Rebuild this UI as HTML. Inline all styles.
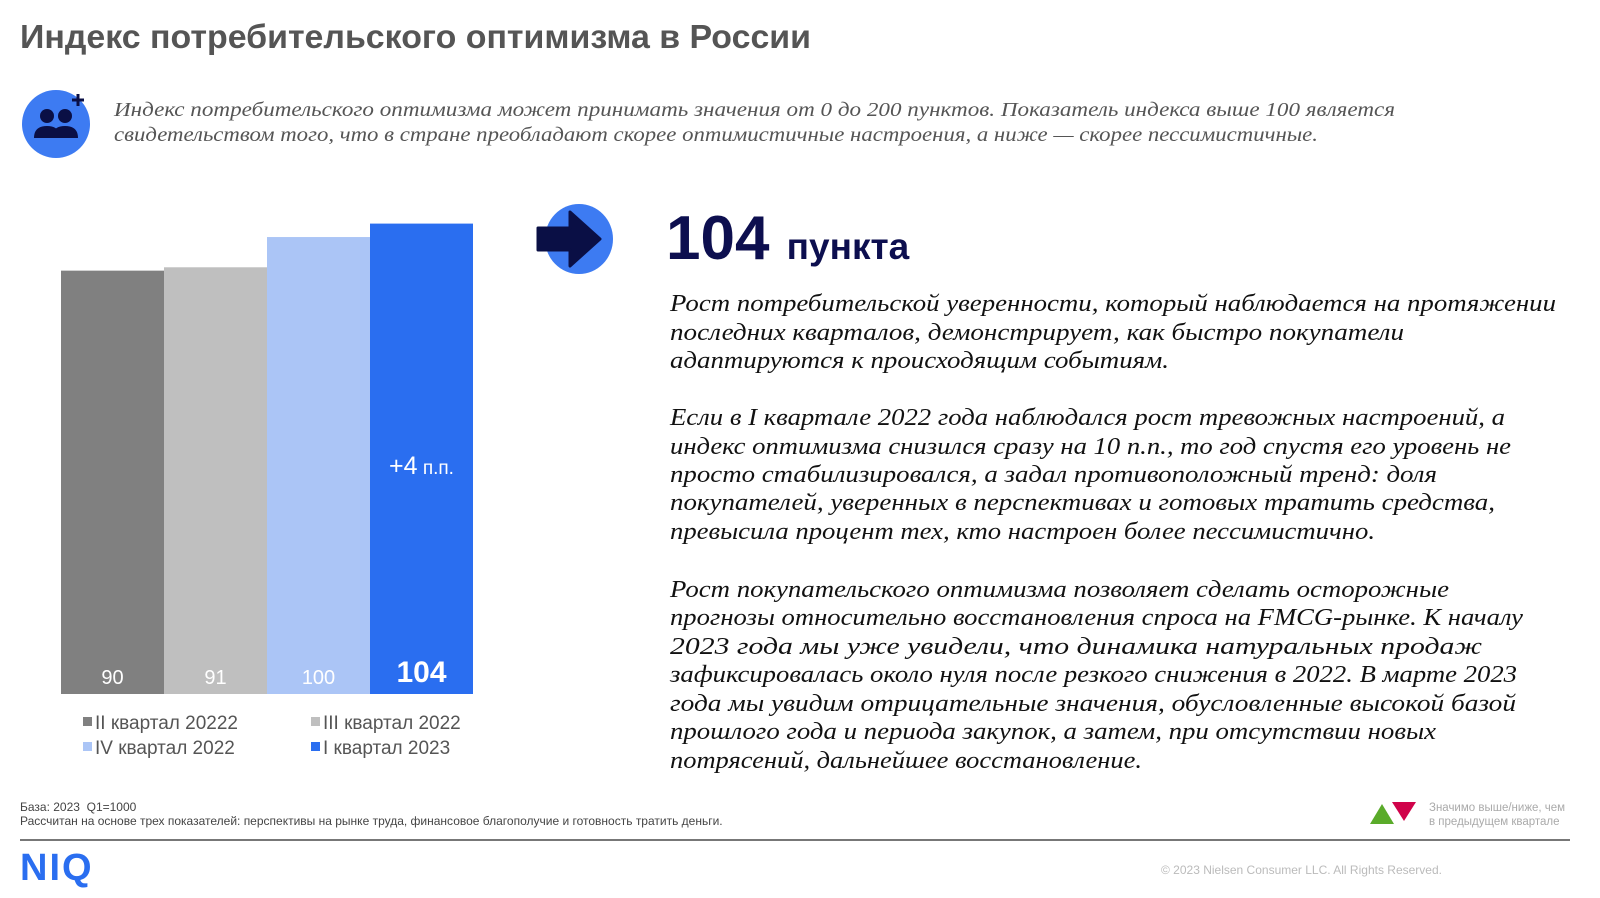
<!DOCTYPE html>
<html><head><meta charset="utf-8"><style>
body{margin:0;width:1600px;height:898px;background:#fff;position:relative;overflow:hidden;font-family:"Liberation Sans",sans-serif}
.abs{position:absolute;white-space:nowrap}
.fit{transform-origin:0 50%;display:inline-block}
.ser{font-family:"Liberation Serif",serif;font-style:italic}
.ln{position:absolute;left:670px;font-size:24px;line-height:28px;color:#111;height:28px}
</style></head><body>
<div class="abs" style="left:20px;top:18px;font-size:33px;font-weight:bold;color:#555"><span class="fit" data-w="791">Индекс потребительского оптимизма в России</span></div>

<svg class="abs" style="left:20px;top:88px" width="76" height="76" viewBox="0 0 76 76">
<circle cx="36" cy="36" r="34" fill="#3d7bf2"/>
<circle cx="27" cy="28" r="7" fill="#0a0f45"/><circle cx="45" cy="28" r="7" fill="#0a0f45"/>
<path d="M14 50 q0-12 13-12 q13 0 13 12z M32 50 q0-12 13-12 q13 0 13 12z" fill="#0a0f45"/>
<path d="M58 6v12M52 12h12" stroke="#0a0f45" stroke-width="3"/></svg>
<div class="abs ser" style="left:114px;top:98px;font-size:20px;line-height:24px;color:#555"><span class="fit" data-w="1281">Индекс потребительского оптимизма может принимать значения от 0 до 200 пунктов. Показатель индекса выше 100 является</span></div>
<div class="abs ser" style="left:114px;top:123px;font-size:20px;line-height:24px;color:#555"><span class="fit" data-w="1204">свидетельством того, что в стране преобладают скорее оптимистичные настроения, а ниже — скорее пессимистичные.</span></div>

<svg id="chart" class="abs" style="left:0;top:0" width="520" height="780"></svg>

<svg class="abs" style="left:536px;top:202px" width="84" height="76" viewBox="0 0 84 76">
<ellipse cx="43" cy="37" rx="34" ry="35" fill="#3d7bf2"/>
<path d="M2 26 H34 V10 L64 37 L34 64 V48 H2z" fill="#0a0f45" stroke="#0a0f45" stroke-linejoin="round" stroke-width="3"/></svg>
<div class="abs" style="left:666px;top:204px;font-size:62px;font-weight:bold;color:#0d0f4f;line-height:70px">104 <span style="font-size:37px">пункта</span></div>

<div id="paras"></div>

<div class="abs" style="left:20px;top:800px;font-size:12px;color:#444">База: 2023&nbsp; Q1=1000</div>
<div class="abs" style="left:20px;top:814px;font-size:12px;color:#444">Рассчитан на основе трех показателей: перспективы на рынке труда, финансовое благополучие и готовность тратить деньги.</div>
<div class="abs" style="left:20px;top:839px;width:1550px;height:2px;background:#777"></div>
<svg class="abs" style="left:1370px;top:801px" width="48" height="24"><polygon points="0,23 24,23 12,3" fill="#5aab2a"/><polygon points="22,1 46,1 34,20" fill="#d0034a"/></svg>
<div class="abs" style="left:1429px;top:801px;font-size:11.5px;line-height:14px;color:#aaa">Значимо выше/ниже, чем<br>в предыдущем квартале</div>
<div class="abs" style="left:20px;top:847px;font-size:38px;font-weight:900;color:#2a6ef0;letter-spacing:2px">NIQ</div>
<div class="abs" style="left:1161px;top:863px;font-size:12px;color:#bbb">© 2023 Nielsen Consumer LLC. All Rights Reserved.</div>

<script>
const categories=["II квартал 20222","III квартал 2022","IV квартал 2022","I квартал 2023"];
const values=[90,91,100,104];
const labels=["90","91","100","104"];
const colors=["#808080","#bfbfbf","#abc5f6","#2a6ef0"];
const changeLabel="+4";
const NS="http://www.w3.org/2000/svg";
const svg=document.getElementById('chart');
const bottom=694, vmin=-36, k=3.36, x0=61, bw=103;
function y(v){return bottom-(v-vmin)*k;}
function xb(i){return x0+i*bw;}
values.forEach((v,i)=>{
 const r=document.createElementNS(NS,'rect');
 r.setAttribute('x',xb(i));r.setAttribute('y',y(v));r.setAttribute('width',bw);r.setAttribute('height',bottom-y(v));r.setAttribute('fill',colors[i]);
 
 
 svg.appendChild(r);
 const t=document.createElementNS(NS,'text');
 const last=i===values.length-1;
 t.setAttribute('x',xb(i)+bw/2);t.setAttribute('y',last?682:684);t.setAttribute('text-anchor','middle');
 t.setAttribute('font-size',last?30:20);t.setAttribute('font-weight',last?'bold':'normal');t.setAttribute('fill','#fff');
 t.setAttribute('font-family','Liberation Sans, sans-serif');t.textContent=labels[i];
 
 
 svg.appendChild(t);
});
const ch=document.createElementNS(NS,'text');
ch.setAttribute('x',xb(3)+bw/2);ch.setAttribute('y',474);ch.setAttribute('text-anchor','middle');ch.setAttribute('fill','#fff');ch.setAttribute('font-family','Liberation Sans, sans-serif');
ch.innerHTML='<tspan font-size="25">'+changeLabel+'</tspan><tspan font-size="19"> п.п.</tspan>';


svg.appendChild(ch);
const lpos=[[83,723],[311,723],[83,748],[311,748]];
categories.forEach((c,i)=>{
 const s=document.createElementNS(NS,'rect');
 s.setAttribute('x',lpos[i][0]);s.setAttribute('y',lpos[i][1]-6);s.setAttribute('width',9);s.setAttribute('height',9);s.setAttribute('fill',colors[i]);
 
 
 svg.appendChild(s);
 const t=document.createElementNS(NS,'text');
 t.setAttribute('x',lpos[i][0]+12);t.setAttribute('y',lpos[i][1]+6);t.setAttribute('font-size',19);t.setAttribute('fill','#555');t.setAttribute('font-family','Liberation Sans, sans-serif');t.textContent=c;
 
 
 svg.appendChild(t);
});
const lines=[
["Рост потребительской уверенности, который наблюдается на протяжении",304,1556],
["последних кварталов, демонстрирует, как быстро покупатели",333,1404],
["адаптируются к происходящим событиям.",361,1169],
["Если в I квартале 2022 года наблюдался рост тревожных настроений, а",418,1505],
["индекс оптимизма снизился сразу на 10 п.п., то год спустя его уровень не",447,1511],
["просто стабилизировался, а задал противоположный тренд: доля",475,1437],
["покупателей, уверенных в перспективах и готовых тратить средства,",503,1495],
["превысила процент тех, кто настроен более пессимистично.",532,1375],
["Рост покупательского оптимизма позволяет сделать осторожные",590,1449],
["прогнозы относительно восстановления спроса на FMCG-рынке. К началу",618,1523],
["2023 года мы уже увидели, что динамика натуральных продаж",647,1482],
["зафиксировалась около нуля после резкого снижения в 2022. В марте 2023",675,1517],
["года мы увидим отрицательные значения, обусловленные высокой базой",704,1516],
["прошлого года и периода закупок, а затем, при отсутствии новых",732,1436],
["потрясений, дальнейшее восстановление.",761,1142]];
const pc=document.getElementById('paras');
lines.forEach(l=>{
 const d=document.createElement('div');
 d.className='ln ser';d.style.top=(l[1]-14)+'px';
 
 
 const s=document.createElement('span');s.className='fit';s.dataset.w=l[2]-670;s.textContent=l[0];
 d.appendChild(s);pc.appendChild(d);
});
document.querySelectorAll('.fit').forEach(s=>{
 const w=s.getBoundingClientRect().width;
 s.style.transform='scaleX('+(s.dataset.w/w)+')';
});
</script>
</body></html>
